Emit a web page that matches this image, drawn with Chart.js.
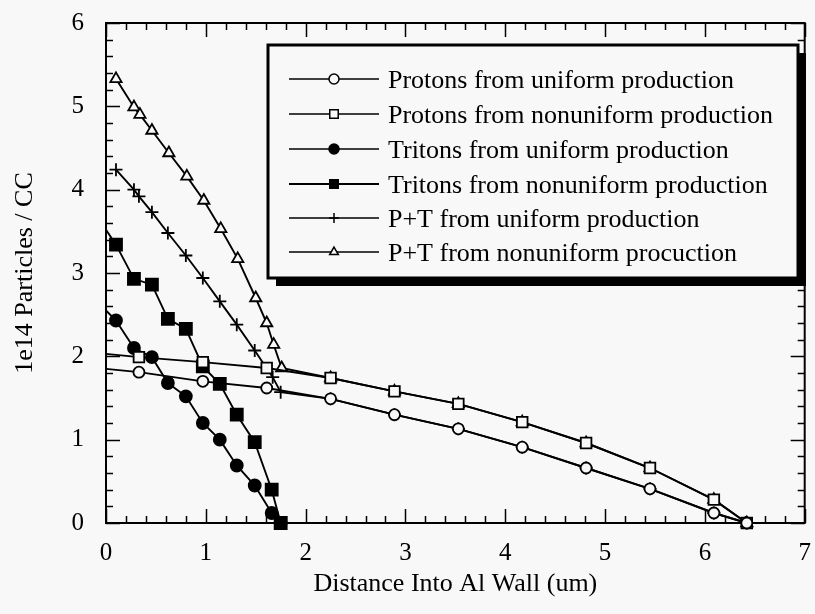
<!DOCTYPE html>
<html>
<head>
<meta charset="utf-8">
<title>Particles vs distance into Al wall</title>
<script src="https://cdn.jsdelivr.net/npm/chart.js@4.4.1/dist/chart.umd.min.js"></script>
<style>
    html, body { margin: 0; padding: 0; background: #f8f8f8; }
    #wrap { width: 815px; height: 614px; }
</style>
</head>
<body>
<div id="wrap"><canvas id="chart" width="815" height="614"></canvas></div>
<script>
// ---- data (x in um, y in 1e14 particles / cc) ----
const protonUniX   = [0, 0.33, 0.97, 1.61, 2.25, 2.89, 3.53, 4.17, 4.81, 5.45, 6.09, 6.42];
const protonUniY   = [1.85, 1.81, 1.70, 1.62, 1.49, 1.30, 1.13, 0.91, 0.66, 0.41, 0.12, 0];
const protonNonX   = [0, 0.33, 0.97, 1.61, 2.25, 2.89, 3.53, 4.17, 4.81, 5.45, 6.09, 6.42];
const protonNonY   = [2.03, 1.99, 1.93, 1.86, 1.74, 1.58, 1.43, 1.21, 0.96, 0.66, 0.28, 0];
const tritonUniX   = [0, 0.10, 0.28, 0.46, 0.62, 0.80, 0.97, 1.14, 1.31, 1.49, 1.66, 1.75];
const tritonUniY   = [2.55, 2.43, 2.10, 1.99, 1.68, 1.52, 1.20, 1.00, 0.69, 0.45, 0.12, 0];
const tritonNonX   = [0, 0.10, 0.28, 0.46, 0.62, 0.80, 0.97, 1.14, 1.31, 1.49, 1.66, 1.75];
const tritonNonY   = [3.52, 3.34, 2.93, 2.86, 2.45, 2.33, 1.88, 1.67, 1.30, 0.97, 0.40, 0];
const sumUniX      = [0.10, 0.28, 0.33, 0.46, 0.62, 0.80, 0.97, 1.14, 1.31, 1.49, 1.67, 1.75,
                      2.25, 2.89, 3.53, 4.17, 4.81, 5.45, 6.09, 6.42];
const sumUniY      = [4.24, 4.00, 3.92, 3.73, 3.48, 3.21, 2.94, 2.66, 2.38, 2.07, 1.75, 1.57,
                      1.49, 1.30, 1.13, 0.91, 0.66, 0.41, 0.12, 0];
const sumNonX      = [0.10, 0.28, 0.34, 0.46, 0.63, 0.81, 0.98, 1.15, 1.32, 1.50, 1.61, 1.68, 1.76,
                      2.25, 2.89, 3.53, 4.17, 4.81, 5.45, 6.09, 6.42];
const sumNonY      = [5.33, 4.99, 4.90, 4.71, 4.44, 4.16, 3.87, 3.53, 3.17, 2.70, 2.40, 2.14, 1.86,
                      1.74, 1.58, 1.43, 1.21, 0.96, 0.66, 0.28, 0];

const xTicks = [0, 1, 2, 3, 4, 5, 6, 7];
const yTicks = [0, 1, 2, 3, 4, 5, 6];

const seriesLabels = [
    'Protons from uniform production',
    'Protons from nonuniform production',
    'Tritons from uniform production',
    'Tritons from nonuniform production',
    'P+T from uniform production',
    'P+T from nonuniform procuction'
];

const BG = '#f8f8f8';
const INK = '#000';
const SERIF = '"Liberation Serif", "DejaVu Serif", serif';

function toPoints(xs, ys) {
    return xs.map((x, i) => ({ x: x, y: ys[i] }));
}

// first point of the species curves sits on the axis with no marker
function hideAxisPoint(r) {
    return function(ctx) {
        return ctx.raw && ctx.raw.x === 0 ? 0 : r;
    };
}

function makeSet(label, xs, ys, style, radius, filled) {
    return {
        label: label,
        data: toPoints(xs, ys),
        borderColor: INK,
        borderWidth: 1.9,
        tension: 0,
        fill: false,
        clip: false,
        pointStyle: style,
        pointRadius: hideAxisPoint(radius),
        pointHoverRadius: hideAxisPoint(radius),
        pointBorderWidth: 1.8,
        pointBorderColor: INK,
        pointBackgroundColor: filled ? INK : BG
    };
}

const datasets = [
    makeSet(seriesLabels[0], protonUniX, protonUniY, 'circle', 5.5, false),
    makeSet(seriesLabels[1], protonNonX, protonNonY, 'rect', 7.5, false),
    makeSet(seriesLabels[2], tritonUniX, tritonUniY, 'circle', 6, true),
    makeSet(seriesLabels[3], tritonNonX, tritonNonY, 'rect', 8.5, true),
    makeSet(seriesLabels[4], sumUniX, sumUniY, 'cross', 6.5, false),
    makeSet(seriesLabels[5], sumNonX, sumNonY, 'triangle', 6.5, false)
];

// frame with inward major/minor ticks on all four sides
const framePlugin = {
    id: 'frame',
    beforeDatasetsDraw(chart) {
        const { ctx, chartArea: a, scales: { x, y } } = chart;
        ctx.save();
        ctx.strokeStyle = INK;
        ctx.lineWidth = 2;
        ctx.strokeRect(a.left, a.top, a.right - a.left, a.bottom - a.top);

        ctx.lineWidth = 1.5;
        ctx.beginPath();
        for (let i = 0; i <= 35; i++) {
            const v = i * 0.2;
            const px = Math.round(x.getPixelForValue(v)) + 0.5;
            const len = i % 5 === 0 ? 14 : 7;
            ctx.moveTo(px, a.bottom); ctx.lineTo(px, a.bottom - len);
            ctx.moveTo(px, a.top); ctx.lineTo(px, a.top + len);
        }
        for (let i = 0; i <= 30; i++) {
            const v = i * 0.2;
            const py = Math.round(y.getPixelForValue(v)) + 0.5;
            const len = i % 5 === 0 ? 14 : 7;
            ctx.moveTo(a.left, py); ctx.lineTo(a.left + len, py);
            ctx.moveTo(a.right, py); ctx.lineTo(a.right - len, py);
        }
        ctx.stroke();
        ctx.restore();
    }
};

// boxed legend with heavy drop shadow, drawn inside the plot
const legendPlugin = {
    id: 'boxLegend',
    afterDatasetsDraw(chart) {
        const ctx = chart.ctx;
        const box = { left: 268, top: 45, right: 798, bottom: 278 };
        ctx.save();
        // shadow
        ctx.fillStyle = INK;
        ctx.fillRect(box.left + 8, box.top + 8, box.right - box.left, box.bottom - box.top);
        ctx.fillStyle = BG;
        ctx.fillRect(box.left, box.top, box.right - box.left, box.bottom - box.top);
        ctx.strokeStyle = INK;
        ctx.lineWidth = 3;
        ctx.strokeRect(box.left, box.top, box.right - box.left, box.bottom - box.top);

        const rowY = [79, 114, 149, 184, 218, 252];
        const lineX0 = 289, lineX1 = 379, markX = 334;
        ctx.font = '26px ' + SERIF;
        ctx.textBaseline = 'middle';
        ctx.textAlign = 'left';
        chart.data.datasets.forEach(function(ds, i) {
            const yy = rowY[i];
            ctx.strokeStyle = INK;
            ctx.lineWidth = i === 3 ? 2.2 : 1.6;
            ctx.beginPath();
            ctx.moveTo(lineX0, yy);
            ctx.lineTo(lineX1, yy);
            ctx.stroke();

            ctx.fillStyle = ds.pointBackgroundColor;
            ctx.strokeStyle = INK;
            ctx.lineWidth = 1.5;
            Chart.helpers.drawPoint(ctx, {
                pointStyle: ds.pointStyle,
                rotation: 0,
                radius: ds.pointStyle === 'rect' ? 6 : 5,
                borderWidth: 1.5
            }, markX, yy);

            ctx.fillStyle = INK;
            ctx.fillText(ds.label, 388, yy + 2);
        });
        ctx.restore();
    }
};

new Chart(document.getElementById('chart'), {
    type: 'line',
    data: { datasets: datasets },
    options: {
        responsive: false,
        animation: false,
        events: [],
        layout: { padding: { top: 23, right: 7, left: 0, bottom: 0 } },
        plugins: {
            legend: { display: false },
            tooltip: { enabled: false }
        },
        scales: {
            x: {
                type: 'linear',
                min: 0,
                max: 7,
                afterFit: function(scale) {
                    scale.height = 91;
                    scale.paddingLeft = 0;
                    scale.paddingRight = 0;
                },
                afterBuildTicks: function(scale) {
                    scale.ticks = xTicks.map(v => ({ value: v }));
                },
                grid: { display: false, drawTicks: false },
                border: { display: false },
                ticks: {
                    color: INK,
                    padding: 15,
                    maxRotation: 0,
                    font: { family: SERIF, size: 25 }
                },
                title: {
                    display: true,
                    text: 'Distance Into Al Wall (um)',
                    color: INK,
                    padding: { top: 0, bottom: 14 },
                    font: { family: SERIF, size: 26 }
                }
            },
            y: {
                type: 'linear',
                min: 0,
                max: 6,
                afterFit: function(scale) {
                    scale.width = 106;
                    scale.paddingTop = 0;
                    scale.paddingBottom = 0;
                },
                afterBuildTicks: function(scale) {
                    scale.ticks = yTicks.map(v => ({ value: v }));
                },
                grid: { display: false, drawTicks: false },
                border: { display: false },
                ticks: {
                    color: INK,
                    padding: 22,
                    font: { family: SERIF, size: 25 }
                },
                title: {
                    display: true,
                    text: '1e14 Particles / CC',
                    color: INK,
                    padding: { top: 10, bottom: 0 },
                    font: { family: SERIF, size: 26 }
                }
            }
        }
    },
    plugins: [framePlugin, legendPlugin]
});
</script>
</body>
</html>
